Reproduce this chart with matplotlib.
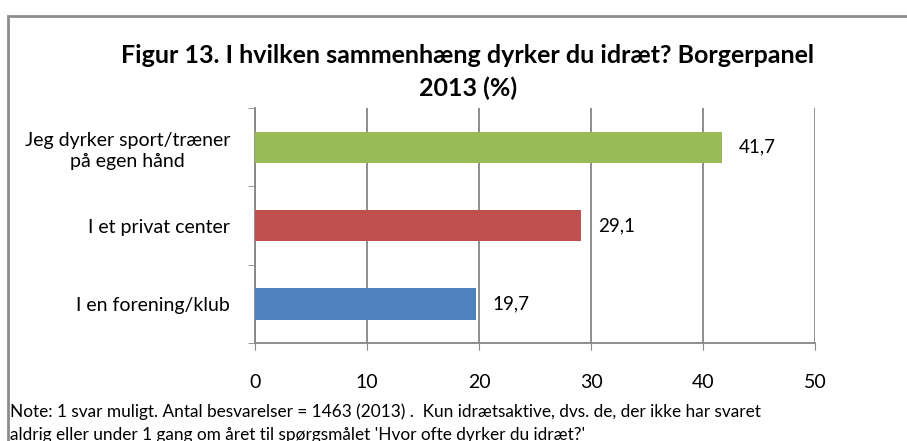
import matplotlib.pyplot as plt
from matplotlib.patches import Rectangle

categories = ["I en forening/klub", "I et privat center", "Jeg dyrker sport/træner\npå egen hånd"]
values = [19.7, 29.1, 41.7]
colors = ["#4F81BD", "#C0504D", "#9BBB59"]
x_ticks = [0, 10, 20, 30, 40, 50]
title = "Figur 13. I hvilken sammenhæng dyrker du idræt? Borgerpanel\n2013 (%)"
note = ("Note: 1 svar muligt. Antal besvarelser = 1463 (2013) .  Kun idrætsaktive, dvs. de, der ikke har svaret\n"
        "aldrig eller under 1 gang om året til spørgsmålet 'Hvor ofte dyrker du idræt?'")

FONT = ["Lato", "DejaVu Sans"]
GRID = "#868686"

plt.rcParams["font.family"] = FONT

fig = plt.figure(figsize=(9.07, 4.41), dpi=100)
ax = fig.add_axes([255 / 907, 1 - 343 / 441, 560 / 907, 235 / 441])

# outer chart border (cut off at right and bottom)
fig.patches.append(Rectangle((7.5 / 907, -0.2), 1.5, 1.2 - 16 / 441,
                             transform=fig.transFigure, fill=False,
                             edgecolor="#8c8c8c", linewidth=2, clip_on=False))

ypos = list(range(len(categories)))
ax.barh(ypos, values, height=0.4, color=colors, zorder=3)
for y, v in zip(ypos, values):
    ax.text(v + 1.5, y, f"{v:.1f}".replace(".", ","), va="center", ha="left",
            fontsize=13.5, color="black")

ax.set_xlim(0, 50)
ax.set_ylim(-0.5, len(categories) - 0.5)
ax.set_xticks(x_ticks)
ax.set_xticklabels([str(t) for t in x_ticks], fontsize=14)
ax.tick_params(axis="x", length=5, color=GRID, pad=17)
ax.set_yticks(ypos)
ax.set_yticklabels(categories, fontsize=14, multialignment="center")
for lbl in ax.get_yticklabels():
    lbl.set_linespacing(1.3)
ax.tick_params(axis="y", length=0, pad=18)
ax.set_yticks([-0.5, 0.5, 1.5, 2.5], minor=True)
ax.tick_params(axis="y", which="minor", length=5, color=GRID)

ax.grid(axis="x", color=GRID, linewidth=1.3, zorder=0)
for side in ["top", "right"]:
    ax.spines[side].set_visible(False)
for side in ["left", "bottom"]:
    ax.spines[side].set_color(GRID)
    ax.spines[side].set_linewidth(1.3)

fig.text(468 / 907, 1 - 72 / 441, title, ha="center", va="center",
         fontsize=18, fontweight="bold", linespacing=1.5)
fig.text(10 / 907, 1 - 403 / 441, note, ha="left", va="top", fontsize=12.4,
         linespacing=1.6)

fig.savefig("out.png", dpi=100)
